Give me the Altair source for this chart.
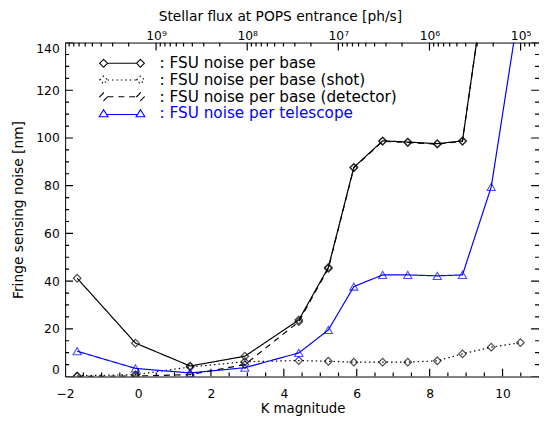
import math
import altair as alt
import pandas as pd

FONT = "DejaVu Sans"

# ---------------- data ----------------
k_mag = [-1.67, -0.07, 1.43, 2.93, 4.41, 5.22, 5.92, 6.71, 7.40, 8.21, 8.90, 9.69, 10.49]
noise_base = [41.2, 14.0, 4.4, 8.5, 23.7, 45.7, 87.7, 98.8, 98.3, 97.6, 98.8, 183.0, 366.0]
noise_shot = [0.3, 0.8, 4.0, 6.2, 6.7, 6.4, 6.0, 6.0, 6.0, 6.6, 9.5, 12.3, 14.2]
noise_det = [0.0, 0.2, 0.8, 5.0, 23.0, 45.3, 87.5, 98.6, 98.1, 97.4, 98.6, 183.0, 366.0]
noise_tel = [10.6, 3.4, 1.5, 3.7, 9.9, 19.5, 37.7, 42.6, 42.6, 42.2, 42.6, 79.5, 158.0]

series_names = [
    "FSU noise per base",
    "FSU noise per base (shot)",
    "FSU noise per base (detector)",
    "FSU noise per telescope",
]
series_colors = ["#000000", "#000000", "#000000", "#0000ff"]
series_dash = [[1, 0], [1.5, 3], [6, 5], [1, 0]]

# tick values
k_major_ticks = [-2, 0, 2, 4, 6, 8, 10]
k_minor_ticks = [-1.5, -1.0, -0.5, 0.5, 1.0, 1.5, 2.5, 3.0, 3.5, 4.5, 5.0, 5.5,
                 6.5, 7.0, 7.5, 8.5, 9.0, 9.5, 10.5]
y_major_ticks = [0, 20, 40, 60, 80, 100, 120, 140]
y_minor_ticks = [5, 10, 15, 25, 30, 35, 45, 50, 55, 65, 70, 75, 85, 90, 95,
                 105, 110, 115, 125, 130, 135]
flux_major_ticks = [1e5, 1e6, 1e7, 1e8, 1e9]
flux_minor_ticks = [3e4, 4e4, 5e4, 6e4, 7e4, 8e4, 9e4,
                    2e5, 3e5, 4e5, 5e5, 6e5, 7e5, 8e5, 9e5,
                    2e6, 3e6, 4e6, 5e6, 6e6, 7e6, 8e6, 9e6,
                    2e7, 3e7, 4e7, 5e7, 6e7, 7e7, 8e7, 9e7,
                    2e8, 3e8, 4e8, 5e8, 6e8, 7e8, 8e8, 9e8,
                    2e9, 3e9, 4e9, 5e9, 6e9, 7e9, 8e9, 9e9]

K_RANGE = [-2, 11]
Y_RANGE = [0, 140]
K_AT_1E9 = 0.495  # K magnitude where the flux is 1e9 ph/s

W, H = 481, 339
MAJOR_LEN, MINOR_LEN = 8, 4  # tick lengths in pixels
TICK = "axis tick"


def flux_of(k):
    return 10 ** (9 - 0.4 * (k - K_AT_1E9))


def k_of_flux(f):
    return K_AT_1E9 + 2.5 * (9 - math.log10(f))


rows = []
for name, vals in zip(series_names, [noise_base, noise_shot, noise_det, noise_tel]):
    for k, v in zip(k_mag, vals):
        rows.append({"K": k, "noise": v, "series": name, "id": name})

# inward tick segments on all four sides (lengths converted from pixels to data units)
px_k = (K_RANGE[1] - K_RANGE[0]) / W
px_y = (Y_RANGE[1] - Y_RANGE[0]) / H


def add_vertical(ks, length, top, tag):
    for i, k in enumerate(ks):
        if top:
            lo, hi = Y_RANGE[1] - length * px_y, Y_RANGE[1]
        else:
            lo, hi = Y_RANGE[0], Y_RANGE[0] + length * px_y
        rows.append({"K": k, "noise": lo, "series": TICK, "id": f"{tag}{i}"})
        rows.append({"K": k, "noise": hi, "series": TICK, "id": f"{tag}{i}"})


def add_horizontal(vs, length, right, tag):
    for i, v in enumerate(vs):
        if right:
            lo, hi = K_RANGE[1] - length * px_k, K_RANGE[1]
        else:
            lo, hi = K_RANGE[0], K_RANGE[0] + length * px_k
        rows.append({"K": lo, "noise": v, "series": TICK, "id": f"{tag}{i}"})
        rows.append({"K": hi, "noise": v, "series": TICK, "id": f"{tag}{i}"})


add_vertical(k_major_ticks, MAJOR_LEN, False, "bM")
add_vertical(k_minor_ticks, MINOR_LEN, False, "bm")
add_vertical([k_of_flux(f) for f in flux_major_ticks], MAJOR_LEN, True, "tM")
add_vertical([k_of_flux(f) for f in flux_minor_ticks], MINOR_LEN, True, "tm")
add_horizontal(y_major_ticks, MAJOR_LEN, False, "lM")
add_horizontal(y_minor_ticks, MINOR_LEN, False, "lm")
add_horizontal(y_major_ticks, MAJOR_LEN, True, "rM")
add_horizontal(y_minor_ticks, MINOR_LEN, True, "rm")
df = pd.DataFrame(rows)

x_scale = alt.Scale(domain=K_RANGE, nice=False, zero=False)
y_scale = alt.Scale(domain=Y_RANGE, nice=False, zero=False)
f_scale = alt.Scale(type="log", domain=[flux_of(K_RANGE[1]), flux_of(K_RANGE[0])],
                    reverse=True, nice=False)
color_scale = alt.Scale(domain=series_names, range=series_colors)
dash_scale = alt.Scale(domain=series_names, range=series_dash)

DIA_PATH = ("M-0.333,0L4.567,0M-1.667,0L-1,-0.667L-0.333,0L-1,0.667Z"
            "M4.567,0L5.233,-0.667L5.9,0L5.233,0.667Z")
TRI_PATH = ("M-0.5,0.15L4.733,0.15M-1.75,0.55L-1,-0.65L-0.25,0.55Z"
            "M4.483,0.55L5.233,-0.65L5.983,0.55Z")
tel = series_names[3]

legend = alt.Legend(
    title=None, orient="none", legendX=37.3, legendY=13.3, padding=0,
    symbolType=alt.ExprRef(f"datum.value === '{tel}' ? '{TRI_PATH}' : '{DIA_PATH}'"),
    symbolSize=144, symbolStrokeWidth=1.1, symbolFillColor="transparent",
    labelFont=FONT, labelFontSize=15.5,
    labelColor=alt.ExprRef(f"datum.value === '{tel}' ? '#0000ff' : '#000000'"),
    labelExpr="': ' + datum.label", labelOffset=43, rowPadding=0, labelLimit=400,
)

is_tick = alt.datum.series == TICK

lines = alt.Chart(df).mark_line(clip=True, strokeWidth=1.2).encode(
    x=alt.X("K:Q", scale=x_scale, axis=None),
    y=alt.Y("noise:Q", scale=y_scale, axis=None),
    color=alt.condition(is_tick, alt.value("#000000"),
                        alt.Color("series:N", scale=color_scale, legend=legend)),
    strokeDash=alt.condition(is_tick, alt.value([1, 0]),
                             alt.StrokeDash("series:N", scale=dash_scale, legend=legend)),
    detail="id:N",
)
diamonds = alt.Chart(df).transform_filter(
    alt.FieldOneOfPredicate(field="series", oneOf=series_names[:3])
).mark_point(clip=True, filled=False, size=60, strokeWidth=1.2, shape="diamond").encode(
    x=alt.X("K:Q", scale=x_scale, axis=None),
    y=alt.Y("noise:Q", scale=y_scale, axis=None),
    color=alt.Color("series:N", scale=color_scale, legend=None),
)
triangles = alt.Chart(df).transform_filter(
    alt.datum.series == tel
).mark_point(clip=True, filled=False, size=70, strokeWidth=1.1, shape="triangle-up").encode(
    x=alt.X("K:Q", scale=x_scale, axis=None),
    y=alt.Y("noise:Q", scale=y_scale, axis=None),
    color=alt.Color("series:N", scale=color_scale, legend=None),
)

# label-only axes
common = dict(domain=False, grid=False, ticks=False, tickSize=0,
              labelFont=FONT, labelColor="black", titleFont=FONT,
              titleColor="black", titleFontWeight="normal", labelOverlap=False)

bottom_axis = alt.Axis(
    orient="bottom", values=k_major_ticks, labelPadding=21,
    labelBaseline="alphabetic", labelFontSize=12.5, labelFlush=False,
    title="K magnitude", titleFontSize=13.5, titleX=241,
    titleY=36.5, titleBaseline="alphabetic", **common)

SUP = "⁰¹²³⁴⁵⁶⁷⁸⁹"
top_axis = alt.Axis(
    orient="top", values=flux_major_ticks, labelPadding=3.4,
    labelBaseline="alphabetic", labelFontSize=12.5, labelFlush=False,
    labelExpr=f"'10' + substring('{SUP}', round(log(datum.value)/LN10), round(log(datum.value)/LN10) + 1)",
    title="Stellar flux at POPS entrance [ph/s]", titleFontSize=14, titleX=218,
    titleY=-22, titleBaseline="alphabetic", **common)

left_axis = alt.Axis(
    orient="left", values=y_major_ticks, labelPadding=6,
    labelFontSize=12.5, labelFlush=True,
    title="Fringe sensing noise [nm]", titleFontSize=14, titleX=-47.7,
    titleBaseline="middle", titleAngle=270, **common)

bottom_labels = alt.Chart(pd.DataFrame({"K": k_major_ticks})).mark_point(opacity=0).encode(
    x=alt.X("K:Q", scale=x_scale, axis=bottom_axis))
top_labels = alt.Chart(pd.DataFrame({"f": flux_major_ticks})).mark_point(opacity=0).encode(
    x=alt.X("f:Q", scale=f_scale, axis=top_axis))
left_labels = alt.Chart(pd.DataFrame({"v": y_major_ticks})).mark_point(opacity=0).encode(
    y=alt.Y("v:Q", scale=y_scale, axis=left_axis))

chart = alt.layer(
    lines, diamonds, triangles, bottom_labels, top_labels, left_labels
).resolve_scale(
    x="independent", y="shared"
).resolve_axis(
    x="independent", y="independent"
).properties(
    width=W, height=H,
    autosize=alt.AutoSizeParams(type="none"),
    padding={"left": 58, "top": 32, "right": 0, "bottom": 38},
    background="white",
).configure_view(
    stroke="black", strokeWidth=1
)

chart.save("out.html", embed_options={"renderer": "svg", "actions": False})
